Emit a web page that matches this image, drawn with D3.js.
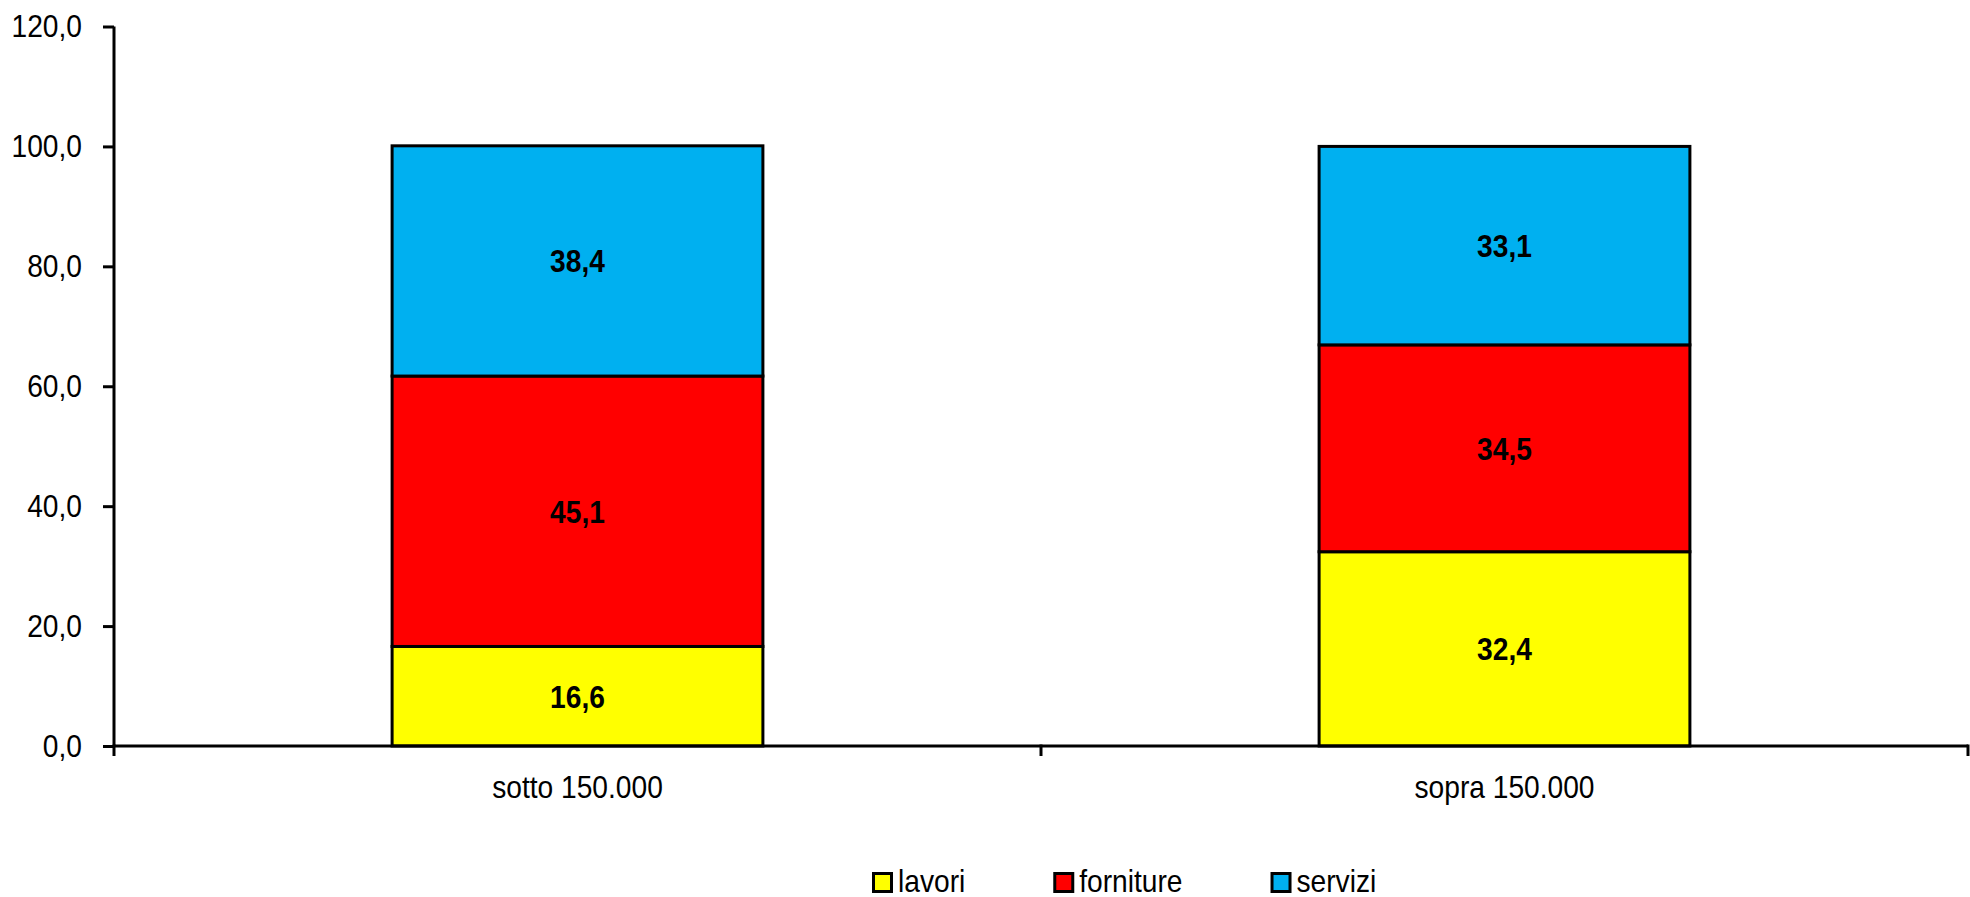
<!DOCTYPE html>
<html>
<head>
<meta charset="utf-8">
<script src="https://cdn.jsdelivr.net/npm/d3@7"></script>
<style>
  body { margin: 0; background: #fff; }
  svg { display: block; }
  text { font-family: "Liberation Sans", Arial, sans-serif; fill: #000; }
</style>
</head>
<body>
<div id="chart"></div>
<script>
var categories = ['sotto 150.000', 'sopra 150.000'];
var seriesNames = ['lavori', 'forniture', 'servizi'];
var seriesColors = ['#FFFF00', '#FF0000', '#00B0F0'];
var lavori = [16.6, 32.4];
var forniture = [45.1, 34.5];
var servizi = [38.4, 33.1];
var yTicks = [0, 20, 40, 60, 80, 100, 120];

var W = 1970, H = 897;
var mLeft = 114, mRight = 1968, mTop = 26.5, mBottom = 746;
var squeeze = 0.88; // the original font is narrower than Liberation Sans

var svg = d3.select('#chart').append('svg')
  .attr('width', W).attr('height', H);

var x = d3.scaleBand().domain(categories)
  .range([mLeft, mRight]).paddingInner(0.6).paddingOuter(0.3);
var y = d3.scaleLinear().domain([0, 120]).range([mBottom, mTop]);

var rows = categories.map(function(c, i) {
  return { cat: c, lavori: lavori[i], forniture: forniture[i], servizi: servizi[i] };
});
var stack = d3.stack().keys(seriesNames)(rows);

var fmt = function(v) { return d3.format('.1f')(v).replace('.', ','); };
var place = function(px, py) {
  return 'translate(' + px + ',' + py + ') scale(' + squeeze + ',1)';
};

// bars
var layers = svg.append('g').selectAll('g')
  .data(stack).enter().append('g')
  .attr('fill', function(d, i) { return seriesColors[i]; });

layers.selectAll('rect')
  .data(function(d) { return d; })
  .enter().append('rect')
    .attr('x', function(d) { return x(d.data.cat); })
    .attr('y', function(d) { return y(d[1]); })
    .attr('width', x.bandwidth())
    .attr('height', function(d) { return y(d[0]) - y(d[1]); })
    .attr('stroke', '#000')
    .attr('stroke-width', 3);

// labels inside bars
svg.append('g').selectAll('g')
  .data(stack).enter().append('g')
  .selectAll('text')
  .data(function(d) { return d.map(function(p) { return { p: p, key: d.key }; }); })
  .enter().append('text')
    .attr('transform', function(d) {
      return place(x(d.p.data.cat) + x.bandwidth() / 2, (y(d.p[0]) + y(d.p[1])) / 2);
    })
    .attr('dy', '0.36em')
    .attr('text-anchor', 'middle')
    .attr('font-weight', 'bold')
    .attr('font-size', 32)
    .text(function(d) { return fmt(d.p.data[d.key]); });

// y axis
var yAxis = d3.axisLeft(y).tickValues(yTicks).tickSize(11).tickPadding(21)
  .tickFormat(fmt);
var gy = svg.append('g').attr('transform', 'translate(' + mLeft + ',0)').call(yAxis);
gy.attr('font-family', null).attr('font-size', null);
gy.select('.domain').attr('d', 'M0,' + mTop + 'V' + mBottom);
gy.selectAll('line, path').attr('stroke', '#000').attr('stroke-width', 3);
gy.selectAll('text')
  .attr('x', null)
  .attr('transform', place(-32, 0))
  .attr('font-size', 32);

// x axis
var gx = svg.append('g').attr('transform', 'translate(0,' + mBottom + ')');
gx.append('line').attr('x1', mLeft).attr('x2', mRight)
  .attr('stroke', '#000').attr('stroke-width', 3);
var bounds = [mLeft].concat(categories.map(function(c) { return x(c) + x.step() * 0.7; }));
gx.selectAll('.tk').data(bounds).enter().append('line')
  .attr('x1', function(d) { return d; }).attr('x2', function(d) { return d; })
  .attr('y1', -1.5).attr('y2', 10)
  .attr('stroke', '#000').attr('stroke-width', 3);
gx.selectAll('.cat').data(categories).enter().append('text')
  .attr('transform', function(d) { return place(x(d) + x.bandwidth() / 2, 52); })
  .attr('text-anchor', 'middle')
  .attr('font-size', 32)
  .text(function(d) { return d; });

// legend
var legend = svg.append('g').attr('transform', 'translate(872,872)');
var lx = 0;
seriesNames.forEach(function(name, i) {
  var g = legend.append('g').attr('transform', 'translate(' + lx + ',0)');
  g.append('rect').attr('x', 1.5).attr('y', 1.5).attr('width', 18).attr('height', 18)
    .attr('fill', seriesColors[i]).attr('stroke', '#000').attr('stroke-width', 3);
  var t = g.append('text').attr('transform', place(26, 20))
    .attr('font-size', 32).text(name);
  var w = t.node().getComputedTextLength() * squeeze;
  lx += 26 + w + 88;
});
</script>
</body>
</html>
